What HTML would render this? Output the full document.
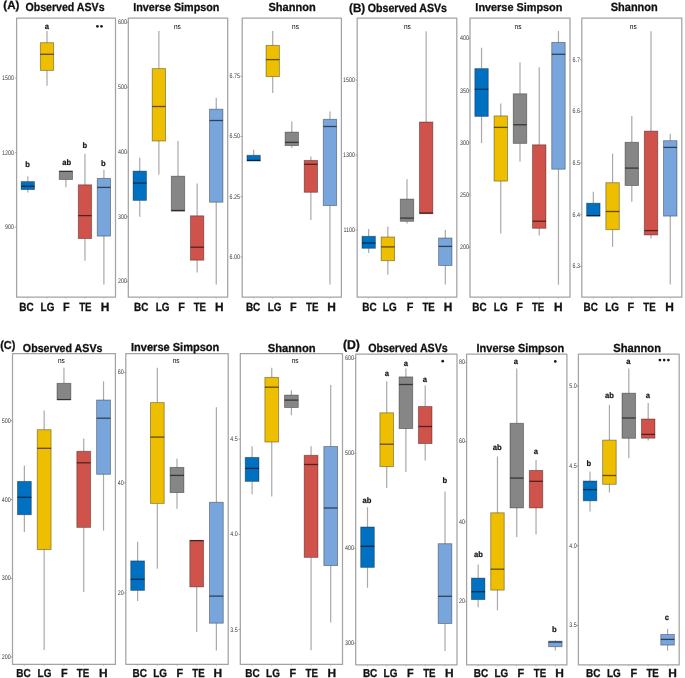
<!DOCTYPE html>
<html><head><meta charset="utf-8"><title>Alpha diversity</title>
<style>html,body{margin:0;padding:0;background:#fff;}body{width:685px;height:678px;overflow:hidden;font-family:"Liberation Sans",sans-serif;}svg{display:block;filter:blur(0.2px);}text{text-rendering:geometricPrecision;}</style>
</head><body>
<svg width="685" height="678" viewBox="0 0 685 678" font-family="Liberation Sans, sans-serif" text-rendering="geometricPrecision">
<rect width="685" height="678" fill="#fff"/>
<rect x="16.60" y="18.00" width="98.90" height="279.20" fill="none" stroke="#a3a3a3" stroke-width="1.25" stroke-linejoin="round"/>
<line x1="14.80" y1="78.10" x2="16.60" y2="78.10" stroke="#777" stroke-width="0.6"/>
<text x="2.09" y="80.04" font-size="6.70" fill="#3a3a3a" textLength="11.92" lengthAdjust="spacingAndGlyphs">1500</text>
<line x1="14.80" y1="152.70" x2="16.60" y2="152.70" stroke="#777" stroke-width="0.6"/>
<text x="2.09" y="154.64" font-size="6.70" fill="#3a3a3a" textLength="11.92" lengthAdjust="spacingAndGlyphs">1200</text>
<line x1="14.80" y1="227.10" x2="16.60" y2="227.10" stroke="#777" stroke-width="0.6"/>
<text x="5.07" y="229.04" font-size="6.70" fill="#3a3a3a" textLength="8.94" lengthAdjust="spacingAndGlyphs">900</text>
<line x1="27.80" y1="297.20" x2="27.80" y2="298.80" stroke="#aaa" stroke-width="0.6"/>
<line x1="47.00" y1="297.20" x2="47.00" y2="298.80" stroke="#aaa" stroke-width="0.6"/>
<line x1="65.90" y1="297.20" x2="65.90" y2="298.80" stroke="#aaa" stroke-width="0.6"/>
<line x1="84.95" y1="297.20" x2="84.95" y2="298.80" stroke="#aaa" stroke-width="0.6"/>
<line x1="103.90" y1="297.20" x2="103.90" y2="298.80" stroke="#aaa" stroke-width="0.6"/>
<line x1="27.80" y1="176.60" x2="27.80" y2="181.60" stroke="#a9a9a9" stroke-width="1.2"/>
<line x1="27.80" y1="189.60" x2="27.80" y2="192.60" stroke="#a9a9a9" stroke-width="1.2"/>
<line x1="47.00" y1="31.00" x2="47.00" y2="42.70" stroke="#a9a9a9" stroke-width="1.2"/>
<line x1="47.00" y1="70.40" x2="47.00" y2="85.80" stroke="#a9a9a9" stroke-width="1.2"/>
<line x1="65.90" y1="179.50" x2="65.90" y2="187.30" stroke="#a9a9a9" stroke-width="1.2"/>
<line x1="84.95" y1="153.80" x2="84.95" y2="184.80" stroke="#a9a9a9" stroke-width="1.2"/>
<line x1="84.95" y1="238.60" x2="84.95" y2="260.70" stroke="#a9a9a9" stroke-width="1.2"/>
<line x1="103.90" y1="169.70" x2="103.90" y2="178.40" stroke="#a9a9a9" stroke-width="1.2"/>
<line x1="103.90" y1="236.10" x2="103.90" y2="284.60" stroke="#a9a9a9" stroke-width="1.2"/>
<rect x="21.14" y="181.60" width="13.31" height="8.00" fill="#0070C0" stroke="rgba(0,0,0,0.38)" stroke-width="0.9"/>
<line x1="21.14" y1="186.20" x2="34.46" y2="186.20" stroke="rgba(0,0,0,0.6)" stroke-width="1.3"/>
<rect x="40.34" y="42.70" width="13.31" height="27.70" fill="#EEBE00" stroke="rgba(0,0,0,0.38)" stroke-width="0.9"/>
<line x1="40.34" y1="54.30" x2="53.66" y2="54.30" stroke="rgba(0,0,0,0.6)" stroke-width="1.3"/>
<rect x="59.24" y="171.30" width="13.31" height="8.20" fill="#868686" stroke="rgba(0,0,0,0.38)" stroke-width="0.9"/>
<line x1="59.24" y1="171.30" x2="72.56" y2="171.30" stroke="rgba(0,0,0,0.6)" stroke-width="1.3"/>
<rect x="78.29" y="184.80" width="13.31" height="53.80" fill="#CF524B" stroke="rgba(0,0,0,0.38)" stroke-width="0.9"/>
<line x1="78.29" y1="215.60" x2="91.61" y2="215.60" stroke="rgba(0,0,0,0.6)" stroke-width="1.3"/>
<rect x="97.24" y="178.40" width="13.31" height="57.70" fill="#79A5DD" stroke="rgba(0,0,0,0.38)" stroke-width="0.9"/>
<line x1="97.24" y1="187.40" x2="110.56" y2="187.40" stroke="rgba(0,0,0,0.6)" stroke-width="1.3"/>
<rect x="128.30" y="18.00" width="99.40" height="279.20" fill="none" stroke="#a3a3a3" stroke-width="1.25" stroke-linejoin="round"/>
<line x1="126.50" y1="22.40" x2="128.30" y2="22.40" stroke="#777" stroke-width="0.6"/>
<text x="117.97" y="24.34" font-size="6.70" fill="#3a3a3a" textLength="8.94" lengthAdjust="spacingAndGlyphs">600</text>
<line x1="126.50" y1="87.20" x2="128.30" y2="87.20" stroke="#777" stroke-width="0.6"/>
<text x="117.97" y="89.14" font-size="6.70" fill="#3a3a3a" textLength="8.94" lengthAdjust="spacingAndGlyphs">500</text>
<line x1="126.50" y1="152.10" x2="128.30" y2="152.10" stroke="#777" stroke-width="0.6"/>
<text x="117.97" y="154.04" font-size="6.70" fill="#3a3a3a" textLength="8.94" lengthAdjust="spacingAndGlyphs">400</text>
<line x1="126.50" y1="216.70" x2="128.30" y2="216.70" stroke="#777" stroke-width="0.6"/>
<text x="117.97" y="218.64" font-size="6.70" fill="#3a3a3a" textLength="8.94" lengthAdjust="spacingAndGlyphs">300</text>
<line x1="126.50" y1="281.50" x2="128.30" y2="281.50" stroke="#777" stroke-width="0.6"/>
<text x="117.97" y="283.44" font-size="6.70" fill="#3a3a3a" textLength="8.94" lengthAdjust="spacingAndGlyphs">200</text>
<line x1="139.77" y1="297.20" x2="139.77" y2="298.80" stroke="#aaa" stroke-width="0.6"/>
<line x1="158.88" y1="297.20" x2="158.88" y2="298.80" stroke="#aaa" stroke-width="0.6"/>
<line x1="178.00" y1="297.20" x2="178.00" y2="298.80" stroke="#aaa" stroke-width="0.6"/>
<line x1="197.12" y1="297.20" x2="197.12" y2="298.80" stroke="#aaa" stroke-width="0.6"/>
<line x1="216.23" y1="297.20" x2="216.23" y2="298.80" stroke="#aaa" stroke-width="0.6"/>
<line x1="139.77" y1="157.80" x2="139.77" y2="171.10" stroke="#a9a9a9" stroke-width="1.2"/>
<line x1="139.77" y1="200.40" x2="139.77" y2="216.70" stroke="#a9a9a9" stroke-width="1.2"/>
<line x1="158.88" y1="30.90" x2="158.88" y2="68.60" stroke="#a9a9a9" stroke-width="1.2"/>
<line x1="158.88" y1="141.00" x2="158.88" y2="174.80" stroke="#a9a9a9" stroke-width="1.2"/>
<line x1="178.00" y1="141.00" x2="178.00" y2="176.20" stroke="#a9a9a9" stroke-width="1.2"/>
<line x1="197.12" y1="183.60" x2="197.12" y2="215.80" stroke="#a9a9a9" stroke-width="1.2"/>
<line x1="197.12" y1="260.20" x2="197.12" y2="272.60" stroke="#a9a9a9" stroke-width="1.2"/>
<line x1="216.23" y1="97.80" x2="216.23" y2="109.20" stroke="#a9a9a9" stroke-width="1.2"/>
<line x1="216.23" y1="202.20" x2="216.23" y2="284.60" stroke="#a9a9a9" stroke-width="1.2"/>
<rect x="133.08" y="171.10" width="13.38" height="29.30" fill="#0070C0" stroke="rgba(0,0,0,0.38)" stroke-width="0.9"/>
<line x1="133.08" y1="183.10" x2="146.46" y2="183.10" stroke="rgba(0,0,0,0.6)" stroke-width="1.3"/>
<rect x="152.19" y="68.60" width="13.38" height="72.40" fill="#EEBE00" stroke="rgba(0,0,0,0.38)" stroke-width="0.9"/>
<line x1="152.19" y1="106.50" x2="165.57" y2="106.50" stroke="rgba(0,0,0,0.6)" stroke-width="1.3"/>
<rect x="171.31" y="176.20" width="13.38" height="34.90" fill="#868686" stroke="rgba(0,0,0,0.38)" stroke-width="0.9"/>
<line x1="171.31" y1="210.50" x2="184.69" y2="210.50" stroke="rgba(0,0,0,0.6)" stroke-width="1.3"/>
<rect x="190.43" y="215.80" width="13.38" height="44.40" fill="#CF524B" stroke="rgba(0,0,0,0.38)" stroke-width="0.9"/>
<line x1="190.43" y1="247.20" x2="203.81" y2="247.20" stroke="rgba(0,0,0,0.6)" stroke-width="1.3"/>
<rect x="209.54" y="109.20" width="13.38" height="93.00" fill="#79A5DD" stroke="rgba(0,0,0,0.38)" stroke-width="0.9"/>
<line x1="209.54" y1="120.50" x2="222.92" y2="120.50" stroke="rgba(0,0,0,0.6)" stroke-width="1.3"/>
<rect x="242.20" y="18.00" width="99.20" height="279.20" fill="none" stroke="#a3a3a3" stroke-width="1.25" stroke-linejoin="round"/>
<line x1="240.40" y1="76.20" x2="242.20" y2="76.20" stroke="#777" stroke-width="0.6"/>
<text x="229.49" y="78.14" font-size="6.70" fill="#3a3a3a" textLength="10.43" lengthAdjust="spacingAndGlyphs">6.75</text>
<line x1="240.40" y1="136.50" x2="242.20" y2="136.50" stroke="#777" stroke-width="0.6"/>
<text x="229.48" y="138.44" font-size="6.70" fill="#3a3a3a" textLength="10.43" lengthAdjust="spacingAndGlyphs">6.50</text>
<line x1="240.40" y1="196.70" x2="242.20" y2="196.70" stroke="#777" stroke-width="0.6"/>
<text x="229.49" y="198.64" font-size="6.70" fill="#3a3a3a" textLength="10.43" lengthAdjust="spacingAndGlyphs">6.25</text>
<line x1="240.40" y1="257.00" x2="242.20" y2="257.00" stroke="#777" stroke-width="0.6"/>
<text x="229.48" y="258.94" font-size="6.70" fill="#3a3a3a" textLength="10.43" lengthAdjust="spacingAndGlyphs">6.00</text>
<line x1="253.65" y1="297.20" x2="253.65" y2="298.80" stroke="#aaa" stroke-width="0.6"/>
<line x1="272.72" y1="297.20" x2="272.72" y2="298.80" stroke="#aaa" stroke-width="0.6"/>
<line x1="291.80" y1="297.20" x2="291.80" y2="298.80" stroke="#aaa" stroke-width="0.6"/>
<line x1="310.88" y1="297.20" x2="310.88" y2="298.80" stroke="#aaa" stroke-width="0.6"/>
<line x1="329.95" y1="297.20" x2="329.95" y2="298.80" stroke="#aaa" stroke-width="0.6"/>
<line x1="253.65" y1="149.80" x2="253.65" y2="155.30" stroke="#a9a9a9" stroke-width="1.2"/>
<line x1="272.72" y1="30.90" x2="272.72" y2="45.40" stroke="#a9a9a9" stroke-width="1.2"/>
<line x1="272.72" y1="76.60" x2="272.72" y2="92.90" stroke="#a9a9a9" stroke-width="1.2"/>
<line x1="291.80" y1="121.40" x2="291.80" y2="132.10" stroke="#a9a9a9" stroke-width="1.2"/>
<line x1="291.80" y1="145.60" x2="291.80" y2="147.70" stroke="#a9a9a9" stroke-width="1.2"/>
<line x1="310.88" y1="156.40" x2="310.88" y2="160.40" stroke="#a9a9a9" stroke-width="1.2"/>
<line x1="310.88" y1="192.30" x2="310.88" y2="220.10" stroke="#a9a9a9" stroke-width="1.2"/>
<line x1="329.95" y1="111.50" x2="329.95" y2="119.30" stroke="#a9a9a9" stroke-width="1.2"/>
<line x1="329.95" y1="205.60" x2="329.95" y2="284.60" stroke="#a9a9a9" stroke-width="1.2"/>
<rect x="246.97" y="155.30" width="13.35" height="5.70" fill="#0070C0" stroke="rgba(0,0,0,0.38)" stroke-width="0.9"/>
<line x1="246.97" y1="160.40" x2="260.32" y2="160.40" stroke="rgba(0,0,0,0.6)" stroke-width="1.3"/>
<rect x="266.05" y="45.40" width="13.35" height="31.20" fill="#EEBE00" stroke="rgba(0,0,0,0.38)" stroke-width="0.9"/>
<line x1="266.05" y1="59.60" x2="279.40" y2="59.60" stroke="rgba(0,0,0,0.6)" stroke-width="1.3"/>
<rect x="285.12" y="132.10" width="13.35" height="13.50" fill="#868686" stroke="rgba(0,0,0,0.38)" stroke-width="0.9"/>
<line x1="285.12" y1="142.40" x2="298.48" y2="142.40" stroke="rgba(0,0,0,0.6)" stroke-width="1.3"/>
<rect x="304.20" y="160.40" width="13.35" height="31.90" fill="#CF524B" stroke="rgba(0,0,0,0.38)" stroke-width="0.9"/>
<line x1="304.20" y1="164.30" x2="317.55" y2="164.30" stroke="rgba(0,0,0,0.6)" stroke-width="1.3"/>
<rect x="323.28" y="119.30" width="13.35" height="86.30" fill="#79A5DD" stroke="rgba(0,0,0,0.38)" stroke-width="0.9"/>
<line x1="323.28" y1="126.50" x2="336.63" y2="126.50" stroke="rgba(0,0,0,0.6)" stroke-width="1.3"/>
<rect x="357.20" y="18.00" width="99.60" height="279.20" fill="none" stroke="#a3a3a3" stroke-width="1.25" stroke-linejoin="round"/>
<line x1="355.40" y1="80.00" x2="357.20" y2="80.00" stroke="#777" stroke-width="0.6"/>
<text x="342.99" y="81.94" font-size="6.70" fill="#3a3a3a" textLength="11.92" lengthAdjust="spacingAndGlyphs">1500</text>
<line x1="355.40" y1="155.00" x2="357.20" y2="155.00" stroke="#777" stroke-width="0.6"/>
<text x="342.99" y="156.94" font-size="6.70" fill="#3a3a3a" textLength="11.92" lengthAdjust="spacingAndGlyphs">1300</text>
<line x1="355.40" y1="230.10" x2="357.20" y2="230.10" stroke="#777" stroke-width="0.6"/>
<text x="343.39" y="232.04" font-size="6.70" fill="#3a3a3a" textLength="11.53" lengthAdjust="spacingAndGlyphs">1100</text>
<line x1="368.69" y1="297.20" x2="368.69" y2="298.80" stroke="#aaa" stroke-width="0.6"/>
<line x1="387.85" y1="297.20" x2="387.85" y2="298.80" stroke="#aaa" stroke-width="0.6"/>
<line x1="407.00" y1="297.20" x2="407.00" y2="298.80" stroke="#aaa" stroke-width="0.6"/>
<line x1="426.15" y1="297.20" x2="426.15" y2="298.80" stroke="#aaa" stroke-width="0.6"/>
<line x1="445.31" y1="297.20" x2="445.31" y2="298.80" stroke="#aaa" stroke-width="0.6"/>
<line x1="368.69" y1="229.00" x2="368.69" y2="236.30" stroke="#a9a9a9" stroke-width="1.2"/>
<line x1="368.69" y1="248.30" x2="368.69" y2="253.10" stroke="#a9a9a9" stroke-width="1.2"/>
<line x1="387.85" y1="226.60" x2="387.85" y2="237.00" stroke="#a9a9a9" stroke-width="1.2"/>
<line x1="387.85" y1="260.70" x2="387.85" y2="274.70" stroke="#a9a9a9" stroke-width="1.2"/>
<line x1="407.00" y1="179.30" x2="407.00" y2="199.10" stroke="#a9a9a9" stroke-width="1.2"/>
<line x1="407.00" y1="221.30" x2="407.00" y2="223.50" stroke="#a9a9a9" stroke-width="1.2"/>
<line x1="426.15" y1="31.30" x2="426.15" y2="122.00" stroke="#a9a9a9" stroke-width="1.2"/>
<line x1="445.31" y1="230.10" x2="445.31" y2="238.00" stroke="#a9a9a9" stroke-width="1.2"/>
<line x1="445.31" y1="265.50" x2="445.31" y2="284.60" stroke="#a9a9a9" stroke-width="1.2"/>
<rect x="361.99" y="236.30" width="13.41" height="12.00" fill="#0070C0" stroke="rgba(0,0,0,0.38)" stroke-width="0.9"/>
<line x1="361.99" y1="243.00" x2="375.40" y2="243.00" stroke="rgba(0,0,0,0.6)" stroke-width="1.3"/>
<rect x="381.14" y="237.00" width="13.41" height="23.70" fill="#EEBE00" stroke="rgba(0,0,0,0.38)" stroke-width="0.9"/>
<line x1="381.14" y1="246.90" x2="394.55" y2="246.90" stroke="rgba(0,0,0,0.6)" stroke-width="1.3"/>
<rect x="400.30" y="199.10" width="13.41" height="22.20" fill="#868686" stroke="rgba(0,0,0,0.38)" stroke-width="0.9"/>
<line x1="400.30" y1="218.10" x2="413.70" y2="218.10" stroke="rgba(0,0,0,0.6)" stroke-width="1.3"/>
<rect x="419.45" y="122.00" width="13.41" height="91.70" fill="#CF524B" stroke="rgba(0,0,0,0.38)" stroke-width="0.9"/>
<line x1="419.45" y1="213.00" x2="432.86" y2="213.00" stroke="rgba(0,0,0,0.6)" stroke-width="1.3"/>
<rect x="438.60" y="238.00" width="13.41" height="27.50" fill="#79A5DD" stroke="rgba(0,0,0,0.38)" stroke-width="0.9"/>
<line x1="438.60" y1="246.40" x2="452.01" y2="246.40" stroke="rgba(0,0,0,0.6)" stroke-width="1.3"/>
<rect x="470.00" y="18.00" width="100.00" height="279.20" fill="none" stroke="#a3a3a3" stroke-width="1.25" stroke-linejoin="round"/>
<line x1="468.20" y1="38.40" x2="470.00" y2="38.40" stroke="#777" stroke-width="0.6"/>
<text x="460.07" y="40.34" font-size="6.70" fill="#3a3a3a" textLength="8.94" lengthAdjust="spacingAndGlyphs">400</text>
<line x1="468.20" y1="90.80" x2="470.00" y2="90.80" stroke="#777" stroke-width="0.6"/>
<text x="460.07" y="92.74" font-size="6.70" fill="#3a3a3a" textLength="8.94" lengthAdjust="spacingAndGlyphs">350</text>
<line x1="468.20" y1="142.70" x2="470.00" y2="142.70" stroke="#777" stroke-width="0.6"/>
<text x="460.07" y="144.64" font-size="6.70" fill="#3a3a3a" textLength="8.94" lengthAdjust="spacingAndGlyphs">300</text>
<line x1="468.20" y1="194.90" x2="470.00" y2="194.90" stroke="#777" stroke-width="0.6"/>
<text x="460.07" y="196.84" font-size="6.70" fill="#3a3a3a" textLength="8.94" lengthAdjust="spacingAndGlyphs">250</text>
<line x1="468.20" y1="247.30" x2="470.00" y2="247.30" stroke="#777" stroke-width="0.6"/>
<text x="460.07" y="249.24" font-size="6.70" fill="#3a3a3a" textLength="8.94" lengthAdjust="spacingAndGlyphs">200</text>
<line x1="481.54" y1="297.20" x2="481.54" y2="298.80" stroke="#aaa" stroke-width="0.6"/>
<line x1="500.77" y1="297.20" x2="500.77" y2="298.80" stroke="#aaa" stroke-width="0.6"/>
<line x1="520.00" y1="297.20" x2="520.00" y2="298.80" stroke="#aaa" stroke-width="0.6"/>
<line x1="539.23" y1="297.20" x2="539.23" y2="298.80" stroke="#aaa" stroke-width="0.6"/>
<line x1="558.46" y1="297.20" x2="558.46" y2="298.80" stroke="#aaa" stroke-width="0.6"/>
<line x1="481.54" y1="47.70" x2="481.54" y2="68.60" stroke="#a9a9a9" stroke-width="1.2"/>
<line x1="481.54" y1="116.40" x2="481.54" y2="143.00" stroke="#a9a9a9" stroke-width="1.2"/>
<line x1="500.77" y1="103.50" x2="500.77" y2="115.90" stroke="#a9a9a9" stroke-width="1.2"/>
<line x1="500.77" y1="181.10" x2="500.77" y2="233.50" stroke="#a9a9a9" stroke-width="1.2"/>
<line x1="520.00" y1="62.40" x2="520.00" y2="93.80" stroke="#a9a9a9" stroke-width="1.2"/>
<line x1="520.00" y1="143.40" x2="520.00" y2="161.60" stroke="#a9a9a9" stroke-width="1.2"/>
<line x1="539.23" y1="67.20" x2="539.23" y2="144.80" stroke="#a9a9a9" stroke-width="1.2"/>
<line x1="539.23" y1="228.30" x2="539.23" y2="235.60" stroke="#a9a9a9" stroke-width="1.2"/>
<line x1="558.46" y1="30.90" x2="558.46" y2="42.40" stroke="#a9a9a9" stroke-width="1.2"/>
<line x1="558.46" y1="169.20" x2="558.46" y2="284.60" stroke="#a9a9a9" stroke-width="1.2"/>
<rect x="474.81" y="68.60" width="13.46" height="47.80" fill="#0070C0" stroke="rgba(0,0,0,0.38)" stroke-width="0.9"/>
<line x1="474.81" y1="89.30" x2="488.27" y2="89.30" stroke="rgba(0,0,0,0.6)" stroke-width="1.3"/>
<rect x="494.04" y="115.90" width="13.46" height="65.20" fill="#EEBE00" stroke="rgba(0,0,0,0.38)" stroke-width="0.9"/>
<line x1="494.04" y1="127.40" x2="507.50" y2="127.40" stroke="rgba(0,0,0,0.6)" stroke-width="1.3"/>
<rect x="513.27" y="93.80" width="13.46" height="49.60" fill="#868686" stroke="rgba(0,0,0,0.38)" stroke-width="0.9"/>
<line x1="513.27" y1="124.75" x2="526.73" y2="124.75" stroke="rgba(0,0,0,0.6)" stroke-width="1.3"/>
<rect x="532.50" y="144.80" width="13.46" height="83.50" fill="#CF524B" stroke="rgba(0,0,0,0.38)" stroke-width="0.9"/>
<line x1="532.50" y1="221.20" x2="545.96" y2="221.20" stroke="rgba(0,0,0,0.6)" stroke-width="1.3"/>
<rect x="551.73" y="42.40" width="13.46" height="126.80" fill="#79A5DD" stroke="rgba(0,0,0,0.38)" stroke-width="0.9"/>
<line x1="551.73" y1="54.30" x2="565.19" y2="54.30" stroke="rgba(0,0,0,0.6)" stroke-width="1.3"/>
<rect x="581.80" y="18.00" width="100.00" height="279.20" fill="none" stroke="#a3a3a3" stroke-width="1.25" stroke-linejoin="round"/>
<line x1="580.00" y1="59.80" x2="581.80" y2="59.80" stroke="#777" stroke-width="0.6"/>
<text x="572.52" y="61.74" font-size="6.70" fill="#3a3a3a" textLength="7.45" lengthAdjust="spacingAndGlyphs">6.7</text>
<line x1="580.00" y1="111.50" x2="581.80" y2="111.50" stroke="#777" stroke-width="0.6"/>
<text x="572.49" y="113.44" font-size="6.70" fill="#3a3a3a" textLength="7.45" lengthAdjust="spacingAndGlyphs">6.6</text>
<line x1="580.00" y1="163.00" x2="581.80" y2="163.00" stroke="#777" stroke-width="0.6"/>
<text x="572.47" y="164.94" font-size="6.70" fill="#3a3a3a" textLength="7.45" lengthAdjust="spacingAndGlyphs">6.5</text>
<line x1="580.00" y1="214.70" x2="581.80" y2="214.70" stroke="#777" stroke-width="0.6"/>
<text x="572.41" y="216.64" font-size="6.70" fill="#3a3a3a" textLength="7.45" lengthAdjust="spacingAndGlyphs">6.4</text>
<line x1="580.00" y1="266.40" x2="581.80" y2="266.40" stroke="#777" stroke-width="0.6"/>
<text x="572.49" y="268.34" font-size="6.70" fill="#3a3a3a" textLength="7.45" lengthAdjust="spacingAndGlyphs">6.3</text>
<line x1="593.34" y1="297.20" x2="593.34" y2="298.80" stroke="#aaa" stroke-width="0.6"/>
<line x1="612.57" y1="297.20" x2="612.57" y2="298.80" stroke="#aaa" stroke-width="0.6"/>
<line x1="631.80" y1="297.20" x2="631.80" y2="298.80" stroke="#aaa" stroke-width="0.6"/>
<line x1="651.03" y1="297.20" x2="651.03" y2="298.80" stroke="#aaa" stroke-width="0.6"/>
<line x1="670.26" y1="297.20" x2="670.26" y2="298.80" stroke="#aaa" stroke-width="0.6"/>
<line x1="593.34" y1="191.70" x2="593.34" y2="203.20" stroke="#a9a9a9" stroke-width="1.2"/>
<line x1="612.57" y1="153.60" x2="612.57" y2="182.70" stroke="#a9a9a9" stroke-width="1.2"/>
<line x1="612.57" y1="229.70" x2="612.57" y2="246.90" stroke="#a9a9a9" stroke-width="1.2"/>
<line x1="631.80" y1="115.90" x2="631.80" y2="142.30" stroke="#a9a9a9" stroke-width="1.2"/>
<line x1="631.80" y1="185.50" x2="631.80" y2="201.80" stroke="#a9a9a9" stroke-width="1.2"/>
<line x1="651.03" y1="31.30" x2="651.03" y2="131.10" stroke="#a9a9a9" stroke-width="1.2"/>
<line x1="651.03" y1="235.00" x2="651.03" y2="238.40" stroke="#a9a9a9" stroke-width="1.2"/>
<line x1="670.26" y1="133.80" x2="670.26" y2="140.70" stroke="#a9a9a9" stroke-width="1.2"/>
<line x1="670.26" y1="216.10" x2="670.26" y2="284.60" stroke="#a9a9a9" stroke-width="1.2"/>
<rect x="586.61" y="203.20" width="13.46" height="12.90" fill="#0070C0" stroke="rgba(0,0,0,0.38)" stroke-width="0.9"/>
<line x1="586.61" y1="215.60" x2="600.07" y2="215.60" stroke="rgba(0,0,0,0.6)" stroke-width="1.3"/>
<rect x="605.84" y="182.70" width="13.46" height="47.00" fill="#EEBE00" stroke="rgba(0,0,0,0.38)" stroke-width="0.9"/>
<line x1="605.84" y1="211.50" x2="619.30" y2="211.50" stroke="rgba(0,0,0,0.6)" stroke-width="1.3"/>
<rect x="625.07" y="142.30" width="13.46" height="43.20" fill="#868686" stroke="rgba(0,0,0,0.38)" stroke-width="0.9"/>
<line x1="625.07" y1="168.10" x2="638.53" y2="168.10" stroke="rgba(0,0,0,0.6)" stroke-width="1.3"/>
<rect x="644.30" y="131.10" width="13.46" height="103.90" fill="#CF524B" stroke="rgba(0,0,0,0.38)" stroke-width="0.9"/>
<line x1="644.30" y1="230.60" x2="657.76" y2="230.60" stroke="rgba(0,0,0,0.6)" stroke-width="1.3"/>
<rect x="663.53" y="140.70" width="13.46" height="75.40" fill="#79A5DD" stroke="rgba(0,0,0,0.38)" stroke-width="0.9"/>
<line x1="663.53" y1="147.40" x2="676.99" y2="147.40" stroke="rgba(0,0,0,0.6)" stroke-width="1.3"/>
<rect x="12.50" y="353.60" width="102.90" height="310.80" fill="none" stroke="#a3a3a3" stroke-width="1.25" stroke-linejoin="round"/>
<line x1="10.70" y1="420.70" x2="12.50" y2="420.70" stroke="#777" stroke-width="0.6"/>
<text x="1.77" y="422.64" font-size="6.70" fill="#3a3a3a" textLength="8.94" lengthAdjust="spacingAndGlyphs">500</text>
<line x1="10.70" y1="499.60" x2="12.50" y2="499.60" stroke="#777" stroke-width="0.6"/>
<text x="1.77" y="501.54" font-size="6.70" fill="#3a3a3a" textLength="8.94" lengthAdjust="spacingAndGlyphs">400</text>
<line x1="10.70" y1="578.40" x2="12.50" y2="578.40" stroke="#777" stroke-width="0.6"/>
<text x="1.77" y="580.34" font-size="6.70" fill="#3a3a3a" textLength="8.94" lengthAdjust="spacingAndGlyphs">300</text>
<line x1="10.70" y1="657.00" x2="12.50" y2="657.00" stroke="#777" stroke-width="0.6"/>
<text x="1.77" y="658.94" font-size="6.70" fill="#3a3a3a" textLength="8.94" lengthAdjust="spacingAndGlyphs">200</text>
<line x1="24.37" y1="664.40" x2="24.37" y2="666.00" stroke="#aaa" stroke-width="0.6"/>
<line x1="44.16" y1="664.40" x2="44.16" y2="666.00" stroke="#aaa" stroke-width="0.6"/>
<line x1="63.95" y1="664.40" x2="63.95" y2="666.00" stroke="#aaa" stroke-width="0.6"/>
<line x1="83.74" y1="664.40" x2="83.74" y2="666.00" stroke="#aaa" stroke-width="0.6"/>
<line x1="103.53" y1="664.40" x2="103.53" y2="666.00" stroke="#aaa" stroke-width="0.6"/>
<line x1="24.37" y1="465.50" x2="24.37" y2="481.40" stroke="#a9a9a9" stroke-width="1.2"/>
<line x1="24.37" y1="514.70" x2="24.37" y2="531.90" stroke="#a9a9a9" stroke-width="1.2"/>
<line x1="44.16" y1="410.50" x2="44.16" y2="429.70" stroke="#a9a9a9" stroke-width="1.2"/>
<line x1="44.16" y1="549.60" x2="44.16" y2="650.10" stroke="#a9a9a9" stroke-width="1.2"/>
<line x1="63.95" y1="367.80" x2="63.95" y2="383.30" stroke="#a9a9a9" stroke-width="1.2"/>
<line x1="83.74" y1="438.60" x2="83.74" y2="451.30" stroke="#a9a9a9" stroke-width="1.2"/>
<line x1="83.74" y1="527.40" x2="83.74" y2="592.00" stroke="#a9a9a9" stroke-width="1.2"/>
<line x1="103.53" y1="381.40" x2="103.53" y2="400.00" stroke="#a9a9a9" stroke-width="1.2"/>
<line x1="103.53" y1="474.30" x2="103.53" y2="530.60" stroke="#a9a9a9" stroke-width="1.2"/>
<rect x="17.45" y="481.40" width="13.85" height="33.30" fill="#0070C0" stroke="rgba(0,0,0,0.38)" stroke-width="0.9"/>
<line x1="17.45" y1="497.30" x2="31.30" y2="497.30" stroke="rgba(0,0,0,0.6)" stroke-width="1.3"/>
<rect x="37.24" y="429.70" width="13.85" height="119.90" fill="#EEBE00" stroke="rgba(0,0,0,0.38)" stroke-width="0.9"/>
<line x1="37.24" y1="448.30" x2="51.09" y2="448.30" stroke="rgba(0,0,0,0.6)" stroke-width="1.3"/>
<rect x="57.02" y="383.30" width="13.85" height="16.30" fill="#868686" stroke="rgba(0,0,0,0.38)" stroke-width="0.9"/>
<line x1="57.02" y1="399.60" x2="70.88" y2="399.60" stroke="rgba(0,0,0,0.6)" stroke-width="1.3"/>
<rect x="76.81" y="451.30" width="13.85" height="76.10" fill="#CF524B" stroke="rgba(0,0,0,0.38)" stroke-width="0.9"/>
<line x1="76.81" y1="462.80" x2="90.66" y2="462.80" stroke="rgba(0,0,0,0.6)" stroke-width="1.3"/>
<rect x="96.60" y="400.00" width="13.85" height="74.30" fill="#79A5DD" stroke="rgba(0,0,0,0.38)" stroke-width="0.9"/>
<line x1="96.60" y1="418.20" x2="110.45" y2="418.20" stroke="rgba(0,0,0,0.6)" stroke-width="1.3"/>
<rect x="125.80" y="353.60" width="102.40" height="310.80" fill="none" stroke="#a3a3a3" stroke-width="1.25" stroke-linejoin="round"/>
<line x1="124.00" y1="372.50" x2="125.80" y2="372.50" stroke="#777" stroke-width="0.6"/>
<text x="117.75" y="374.44" font-size="6.70" fill="#3a3a3a" textLength="5.96" lengthAdjust="spacingAndGlyphs">60</text>
<line x1="124.00" y1="482.80" x2="125.80" y2="482.80" stroke="#777" stroke-width="0.6"/>
<text x="117.75" y="484.74" font-size="6.70" fill="#3a3a3a" textLength="5.96" lengthAdjust="spacingAndGlyphs">40</text>
<line x1="124.00" y1="593.10" x2="125.80" y2="593.10" stroke="#777" stroke-width="0.6"/>
<text x="117.75" y="595.04" font-size="6.70" fill="#3a3a3a" textLength="5.96" lengthAdjust="spacingAndGlyphs">20</text>
<line x1="137.62" y1="664.40" x2="137.62" y2="666.00" stroke="#aaa" stroke-width="0.6"/>
<line x1="157.31" y1="664.40" x2="157.31" y2="666.00" stroke="#aaa" stroke-width="0.6"/>
<line x1="177.00" y1="664.40" x2="177.00" y2="666.00" stroke="#aaa" stroke-width="0.6"/>
<line x1="196.69" y1="664.40" x2="196.69" y2="666.00" stroke="#aaa" stroke-width="0.6"/>
<line x1="216.38" y1="664.40" x2="216.38" y2="666.00" stroke="#aaa" stroke-width="0.6"/>
<line x1="137.62" y1="541.80" x2="137.62" y2="560.90" stroke="#a9a9a9" stroke-width="1.2"/>
<line x1="137.62" y1="590.40" x2="137.62" y2="601.10" stroke="#a9a9a9" stroke-width="1.2"/>
<line x1="157.31" y1="367.70" x2="157.31" y2="402.60" stroke="#a9a9a9" stroke-width="1.2"/>
<line x1="157.31" y1="503.40" x2="157.31" y2="568.70" stroke="#a9a9a9" stroke-width="1.2"/>
<line x1="177.00" y1="458.60" x2="177.00" y2="467.40" stroke="#a9a9a9" stroke-width="1.2"/>
<line x1="177.00" y1="492.60" x2="177.00" y2="508.70" stroke="#a9a9a9" stroke-width="1.2"/>
<line x1="196.69" y1="539.90" x2="196.69" y2="540.40" stroke="#a9a9a9" stroke-width="1.2"/>
<line x1="196.69" y1="586.90" x2="196.69" y2="632.00" stroke="#a9a9a9" stroke-width="1.2"/>
<line x1="216.38" y1="407.30" x2="216.38" y2="502.30" stroke="#a9a9a9" stroke-width="1.2"/>
<line x1="216.38" y1="623.20" x2="216.38" y2="650.60" stroke="#a9a9a9" stroke-width="1.2"/>
<rect x="130.72" y="560.90" width="13.78" height="29.50" fill="#0070C0" stroke="rgba(0,0,0,0.38)" stroke-width="0.9"/>
<line x1="130.72" y1="579.30" x2="144.51" y2="579.30" stroke="rgba(0,0,0,0.6)" stroke-width="1.3"/>
<rect x="150.42" y="402.60" width="13.78" height="100.80" fill="#EEBE00" stroke="rgba(0,0,0,0.38)" stroke-width="0.9"/>
<line x1="150.42" y1="437.10" x2="164.20" y2="437.10" stroke="rgba(0,0,0,0.6)" stroke-width="1.3"/>
<rect x="170.11" y="467.40" width="13.78" height="25.20" fill="#868686" stroke="rgba(0,0,0,0.38)" stroke-width="0.9"/>
<line x1="170.11" y1="475.40" x2="183.89" y2="475.40" stroke="rgba(0,0,0,0.6)" stroke-width="1.3"/>
<rect x="189.80" y="540.40" width="13.78" height="46.50" fill="#CF524B" stroke="rgba(0,0,0,0.38)" stroke-width="0.9"/>
<line x1="189.80" y1="540.60" x2="203.58" y2="540.60" stroke="rgba(0,0,0,0.6)" stroke-width="1.3"/>
<rect x="209.49" y="502.30" width="13.78" height="120.90" fill="#79A5DD" stroke="rgba(0,0,0,0.38)" stroke-width="0.9"/>
<line x1="209.49" y1="596.10" x2="223.28" y2="596.10" stroke="rgba(0,0,0,0.6)" stroke-width="1.3"/>
<rect x="240.30" y="353.60" width="102.20" height="310.80" fill="none" stroke="#a3a3a3" stroke-width="1.25" stroke-linejoin="round"/>
<line x1="238.50" y1="439.10" x2="240.30" y2="439.10" stroke="#777" stroke-width="0.6"/>
<text x="230.37" y="441.00" font-size="6.70" fill="#3a3a3a" textLength="7.45" lengthAdjust="spacingAndGlyphs">4.5</text>
<line x1="238.50" y1="534.50" x2="240.30" y2="534.50" stroke="#777" stroke-width="0.6"/>
<text x="230.36" y="536.44" font-size="6.70" fill="#3a3a3a" textLength="7.45" lengthAdjust="spacingAndGlyphs">4.0</text>
<line x1="238.50" y1="629.60" x2="240.30" y2="629.60" stroke="#777" stroke-width="0.6"/>
<text x="230.37" y="631.54" font-size="6.70" fill="#3a3a3a" textLength="7.45" lengthAdjust="spacingAndGlyphs">3.5</text>
<line x1="252.09" y1="664.40" x2="252.09" y2="666.00" stroke="#aaa" stroke-width="0.6"/>
<line x1="271.75" y1="664.40" x2="271.75" y2="666.00" stroke="#aaa" stroke-width="0.6"/>
<line x1="291.40" y1="664.40" x2="291.40" y2="666.00" stroke="#aaa" stroke-width="0.6"/>
<line x1="311.05" y1="664.40" x2="311.05" y2="666.00" stroke="#aaa" stroke-width="0.6"/>
<line x1="330.71" y1="664.40" x2="330.71" y2="666.00" stroke="#aaa" stroke-width="0.6"/>
<line x1="252.09" y1="446.30" x2="252.09" y2="457.40" stroke="#a9a9a9" stroke-width="1.2"/>
<line x1="252.09" y1="481.40" x2="252.09" y2="494.20" stroke="#a9a9a9" stroke-width="1.2"/>
<line x1="271.75" y1="367.70" x2="271.75" y2="377.40" stroke="#a9a9a9" stroke-width="1.2"/>
<line x1="271.75" y1="442.00" x2="271.75" y2="496.50" stroke="#a9a9a9" stroke-width="1.2"/>
<line x1="291.40" y1="390.20" x2="291.40" y2="395.10" stroke="#a9a9a9" stroke-width="1.2"/>
<line x1="291.40" y1="407.50" x2="291.40" y2="415.30" stroke="#a9a9a9" stroke-width="1.2"/>
<line x1="311.05" y1="446.30" x2="311.05" y2="455.30" stroke="#a9a9a9" stroke-width="1.2"/>
<line x1="311.05" y1="557.40" x2="311.05" y2="650.20" stroke="#a9a9a9" stroke-width="1.2"/>
<line x1="330.71" y1="384.90" x2="330.71" y2="446.50" stroke="#a9a9a9" stroke-width="1.2"/>
<line x1="330.71" y1="565.60" x2="330.71" y2="622.40" stroke="#a9a9a9" stroke-width="1.2"/>
<rect x="245.21" y="457.40" width="13.76" height="24.00" fill="#0070C0" stroke="rgba(0,0,0,0.38)" stroke-width="0.9"/>
<line x1="245.21" y1="468.40" x2="258.97" y2="468.40" stroke="rgba(0,0,0,0.6)" stroke-width="1.3"/>
<rect x="264.87" y="377.40" width="13.76" height="64.60" fill="#EEBE00" stroke="rgba(0,0,0,0.38)" stroke-width="0.9"/>
<line x1="264.87" y1="387.20" x2="278.62" y2="387.20" stroke="rgba(0,0,0,0.6)" stroke-width="1.3"/>
<rect x="284.52" y="395.10" width="13.76" height="12.40" fill="#868686" stroke="rgba(0,0,0,0.38)" stroke-width="0.9"/>
<line x1="284.52" y1="400.10" x2="298.28" y2="400.10" stroke="rgba(0,0,0,0.6)" stroke-width="1.3"/>
<rect x="304.18" y="455.30" width="13.76" height="102.10" fill="#CF524B" stroke="rgba(0,0,0,0.38)" stroke-width="0.9"/>
<line x1="304.18" y1="464.50" x2="317.93" y2="464.50" stroke="rgba(0,0,0,0.6)" stroke-width="1.3"/>
<rect x="323.83" y="446.50" width="13.76" height="119.10" fill="#79A5DD" stroke="rgba(0,0,0,0.38)" stroke-width="0.9"/>
<line x1="323.83" y1="508.00" x2="337.59" y2="508.00" stroke="rgba(0,0,0,0.6)" stroke-width="1.3"/>
<rect x="355.70" y="354.20" width="101.30" height="310.60" fill="none" stroke="#a3a3a3" stroke-width="1.25" stroke-linejoin="round"/>
<line x1="353.90" y1="358.50" x2="355.70" y2="358.50" stroke="#777" stroke-width="0.6"/>
<text x="344.97" y="360.44" font-size="6.70" fill="#3a3a3a" textLength="8.94" lengthAdjust="spacingAndGlyphs">600</text>
<line x1="353.90" y1="453.40" x2="355.70" y2="453.40" stroke="#777" stroke-width="0.6"/>
<text x="344.97" y="455.34" font-size="6.70" fill="#3a3a3a" textLength="8.94" lengthAdjust="spacingAndGlyphs">500</text>
<line x1="353.90" y1="548.30" x2="355.70" y2="548.30" stroke="#777" stroke-width="0.6"/>
<text x="344.97" y="550.24" font-size="6.70" fill="#3a3a3a" textLength="8.94" lengthAdjust="spacingAndGlyphs">400</text>
<line x1="353.90" y1="643.30" x2="355.70" y2="643.30" stroke="#777" stroke-width="0.6"/>
<text x="344.97" y="645.24" font-size="6.70" fill="#3a3a3a" textLength="8.94" lengthAdjust="spacingAndGlyphs">300</text>
<line x1="367.50" y1="664.80" x2="367.50" y2="666.40" stroke="#aaa" stroke-width="0.6"/>
<line x1="386.70" y1="664.80" x2="386.70" y2="666.40" stroke="#aaa" stroke-width="0.6"/>
<line x1="405.90" y1="664.80" x2="405.90" y2="666.40" stroke="#aaa" stroke-width="0.6"/>
<line x1="425.20" y1="664.80" x2="425.20" y2="666.40" stroke="#aaa" stroke-width="0.6"/>
<line x1="445.00" y1="664.80" x2="445.00" y2="666.40" stroke="#aaa" stroke-width="0.6"/>
<line x1="367.50" y1="507.30" x2="367.50" y2="527.00" stroke="#a9a9a9" stroke-width="1.2"/>
<line x1="367.50" y1="567.40" x2="367.50" y2="587.80" stroke="#a9a9a9" stroke-width="1.2"/>
<line x1="386.70" y1="381.30" x2="386.70" y2="412.80" stroke="#a9a9a9" stroke-width="1.2"/>
<line x1="386.70" y1="466.60" x2="386.70" y2="488.00" stroke="#a9a9a9" stroke-width="1.2"/>
<line x1="405.90" y1="368.60" x2="405.90" y2="376.90" stroke="#a9a9a9" stroke-width="1.2"/>
<line x1="405.90" y1="428.60" x2="405.90" y2="472.00" stroke="#a9a9a9" stroke-width="1.2"/>
<line x1="425.20" y1="385.40" x2="425.20" y2="406.50" stroke="#a9a9a9" stroke-width="1.2"/>
<line x1="425.20" y1="443.60" x2="425.20" y2="460.60" stroke="#a9a9a9" stroke-width="1.2"/>
<line x1="445.00" y1="491.40" x2="445.00" y2="543.70" stroke="#a9a9a9" stroke-width="1.2"/>
<line x1="445.00" y1="623.50" x2="445.00" y2="651.00" stroke="#a9a9a9" stroke-width="1.2"/>
<rect x="360.68" y="527.00" width="13.64" height="40.40" fill="#0070C0" stroke="rgba(0,0,0,0.38)" stroke-width="0.9"/>
<line x1="360.68" y1="546.30" x2="374.32" y2="546.30" stroke="rgba(0,0,0,0.6)" stroke-width="1.3"/>
<rect x="379.88" y="412.80" width="13.64" height="53.80" fill="#EEBE00" stroke="rgba(0,0,0,0.38)" stroke-width="0.9"/>
<line x1="379.88" y1="444.20" x2="393.52" y2="444.20" stroke="rgba(0,0,0,0.6)" stroke-width="1.3"/>
<rect x="399.08" y="376.90" width="13.64" height="51.70" fill="#868686" stroke="rgba(0,0,0,0.38)" stroke-width="0.9"/>
<line x1="399.08" y1="384.50" x2="412.72" y2="384.50" stroke="rgba(0,0,0,0.6)" stroke-width="1.3"/>
<rect x="418.38" y="406.50" width="13.64" height="37.10" fill="#CF524B" stroke="rgba(0,0,0,0.38)" stroke-width="0.9"/>
<line x1="418.38" y1="426.50" x2="432.02" y2="426.50" stroke="rgba(0,0,0,0.6)" stroke-width="1.3"/>
<rect x="438.18" y="543.70" width="13.64" height="79.80" fill="#79A5DD" stroke="rgba(0,0,0,0.38)" stroke-width="0.9"/>
<line x1="438.18" y1="596.30" x2="451.82" y2="596.30" stroke="rgba(0,0,0,0.6)" stroke-width="1.3"/>
<rect x="466.60" y="354.20" width="100.30" height="310.70" fill="none" stroke="#a3a3a3" stroke-width="1.25" stroke-linejoin="round"/>
<line x1="464.80" y1="362.40" x2="466.60" y2="362.40" stroke="#777" stroke-width="0.6"/>
<text x="458.95" y="364.34" font-size="6.70" fill="#3a3a3a" textLength="5.96" lengthAdjust="spacingAndGlyphs">80</text>
<line x1="464.80" y1="441.50" x2="466.60" y2="441.50" stroke="#777" stroke-width="0.6"/>
<text x="458.95" y="443.44" font-size="6.70" fill="#3a3a3a" textLength="5.96" lengthAdjust="spacingAndGlyphs">60</text>
<line x1="464.80" y1="521.70" x2="466.60" y2="521.70" stroke="#777" stroke-width="0.6"/>
<text x="458.95" y="523.64" font-size="6.70" fill="#3a3a3a" textLength="5.96" lengthAdjust="spacingAndGlyphs">40</text>
<line x1="464.80" y1="601.30" x2="466.60" y2="601.30" stroke="#777" stroke-width="0.6"/>
<text x="458.95" y="603.24" font-size="6.70" fill="#3a3a3a" textLength="5.96" lengthAdjust="spacingAndGlyphs">20</text>
<line x1="478.17" y1="664.90" x2="478.17" y2="666.50" stroke="#aaa" stroke-width="0.6"/>
<line x1="497.46" y1="664.90" x2="497.46" y2="666.50" stroke="#aaa" stroke-width="0.6"/>
<line x1="516.75" y1="664.90" x2="516.75" y2="666.50" stroke="#aaa" stroke-width="0.6"/>
<line x1="536.04" y1="664.90" x2="536.04" y2="666.50" stroke="#aaa" stroke-width="0.6"/>
<line x1="555.33" y1="664.90" x2="555.33" y2="666.50" stroke="#aaa" stroke-width="0.6"/>
<line x1="478.17" y1="564.40" x2="478.17" y2="578.10" stroke="#a9a9a9" stroke-width="1.2"/>
<line x1="478.17" y1="599.60" x2="478.17" y2="607.30" stroke="#a9a9a9" stroke-width="1.2"/>
<line x1="497.46" y1="456.50" x2="497.46" y2="512.80" stroke="#a9a9a9" stroke-width="1.2"/>
<line x1="497.46" y1="590.10" x2="497.46" y2="610.40" stroke="#a9a9a9" stroke-width="1.2"/>
<line x1="516.75" y1="368.60" x2="516.75" y2="423.30" stroke="#a9a9a9" stroke-width="1.2"/>
<line x1="516.75" y1="507.90" x2="516.75" y2="537.10" stroke="#a9a9a9" stroke-width="1.2"/>
<line x1="536.04" y1="460.10" x2="536.04" y2="470.40" stroke="#a9a9a9" stroke-width="1.2"/>
<line x1="536.04" y1="507.90" x2="536.04" y2="534.40" stroke="#a9a9a9" stroke-width="1.2"/>
<line x1="555.33" y1="640.40" x2="555.33" y2="641.20" stroke="#a9a9a9" stroke-width="1.2"/>
<line x1="555.33" y1="646.70" x2="555.33" y2="650.60" stroke="#a9a9a9" stroke-width="1.2"/>
<rect x="471.42" y="578.10" width="13.50" height="21.50" fill="#0070C0" stroke="rgba(0,0,0,0.38)" stroke-width="0.9"/>
<line x1="471.42" y1="591.70" x2="484.92" y2="591.70" stroke="rgba(0,0,0,0.6)" stroke-width="1.3"/>
<rect x="490.71" y="512.80" width="13.50" height="77.30" fill="#EEBE00" stroke="rgba(0,0,0,0.38)" stroke-width="0.9"/>
<line x1="490.71" y1="569.20" x2="504.21" y2="569.20" stroke="rgba(0,0,0,0.6)" stroke-width="1.3"/>
<rect x="510.00" y="423.30" width="13.50" height="84.60" fill="#868686" stroke="rgba(0,0,0,0.38)" stroke-width="0.9"/>
<line x1="510.00" y1="478.10" x2="523.50" y2="478.10" stroke="rgba(0,0,0,0.6)" stroke-width="1.3"/>
<rect x="529.29" y="470.40" width="13.50" height="37.50" fill="#CF524B" stroke="rgba(0,0,0,0.38)" stroke-width="0.9"/>
<line x1="529.29" y1="481.30" x2="542.79" y2="481.30" stroke="rgba(0,0,0,0.6)" stroke-width="1.3"/>
<rect x="548.58" y="641.20" width="13.50" height="5.50" fill="#79A5DD" stroke="rgba(0,0,0,0.38)" stroke-width="0.9"/>
<line x1="548.58" y1="642.10" x2="562.08" y2="642.10" stroke="rgba(0,0,0,0.6)" stroke-width="1.3"/>
<rect x="578.40" y="354.20" width="100.80" height="310.70" fill="none" stroke="#a3a3a3" stroke-width="1.25" stroke-linejoin="round"/>
<line x1="576.60" y1="386.10" x2="578.40" y2="386.10" stroke="#777" stroke-width="0.6"/>
<text x="569.26" y="388.04" font-size="6.70" fill="#3a3a3a" textLength="7.45" lengthAdjust="spacingAndGlyphs">5.0</text>
<line x1="576.60" y1="465.80" x2="578.40" y2="465.80" stroke="#777" stroke-width="0.6"/>
<text x="569.27" y="467.70" font-size="6.70" fill="#3a3a3a" textLength="7.45" lengthAdjust="spacingAndGlyphs">4.5</text>
<line x1="576.60" y1="545.60" x2="578.40" y2="545.60" stroke="#777" stroke-width="0.6"/>
<text x="569.26" y="547.54" font-size="6.70" fill="#3a3a3a" textLength="7.45" lengthAdjust="spacingAndGlyphs">4.0</text>
<line x1="576.60" y1="625.40" x2="578.40" y2="625.40" stroke="#777" stroke-width="0.6"/>
<text x="569.27" y="627.34" font-size="6.70" fill="#3a3a3a" textLength="7.45" lengthAdjust="spacingAndGlyphs">3.5</text>
<line x1="590.03" y1="664.90" x2="590.03" y2="666.50" stroke="#aaa" stroke-width="0.6"/>
<line x1="609.42" y1="664.90" x2="609.42" y2="666.50" stroke="#aaa" stroke-width="0.6"/>
<line x1="628.80" y1="664.90" x2="628.80" y2="666.50" stroke="#aaa" stroke-width="0.6"/>
<line x1="648.18" y1="664.90" x2="648.18" y2="666.50" stroke="#aaa" stroke-width="0.6"/>
<line x1="667.57" y1="664.90" x2="667.57" y2="666.50" stroke="#aaa" stroke-width="0.6"/>
<line x1="590.03" y1="471.60" x2="590.03" y2="481.00" stroke="#a9a9a9" stroke-width="1.2"/>
<line x1="590.03" y1="500.80" x2="590.03" y2="511.40" stroke="#a9a9a9" stroke-width="1.2"/>
<line x1="609.42" y1="404.90" x2="609.42" y2="440.10" stroke="#a9a9a9" stroke-width="1.2"/>
<line x1="609.42" y1="484.30" x2="609.42" y2="492.50" stroke="#a9a9a9" stroke-width="1.2"/>
<line x1="628.80" y1="368.60" x2="628.80" y2="393.20" stroke="#a9a9a9" stroke-width="1.2"/>
<line x1="628.80" y1="438.30" x2="628.80" y2="458.30" stroke="#a9a9a9" stroke-width="1.2"/>
<line x1="648.18" y1="403.10" x2="648.18" y2="419.00" stroke="#a9a9a9" stroke-width="1.2"/>
<line x1="648.18" y1="438.20" x2="648.18" y2="440.60" stroke="#a9a9a9" stroke-width="1.2"/>
<line x1="667.57" y1="628.80" x2="667.57" y2="634.50" stroke="#a9a9a9" stroke-width="1.2"/>
<line x1="667.57" y1="645.10" x2="667.57" y2="650.60" stroke="#a9a9a9" stroke-width="1.2"/>
<rect x="583.25" y="481.00" width="13.57" height="19.80" fill="#0070C0" stroke="rgba(0,0,0,0.38)" stroke-width="0.9"/>
<line x1="583.25" y1="489.60" x2="596.82" y2="489.60" stroke="rgba(0,0,0,0.6)" stroke-width="1.3"/>
<rect x="602.63" y="440.10" width="13.57" height="44.20" fill="#EEBE00" stroke="rgba(0,0,0,0.38)" stroke-width="0.9"/>
<line x1="602.63" y1="475.50" x2="616.20" y2="475.50" stroke="rgba(0,0,0,0.6)" stroke-width="1.3"/>
<rect x="622.02" y="393.20" width="13.57" height="45.10" fill="#868686" stroke="rgba(0,0,0,0.38)" stroke-width="0.9"/>
<line x1="622.02" y1="418.00" x2="635.58" y2="418.00" stroke="rgba(0,0,0,0.6)" stroke-width="1.3"/>
<rect x="641.40" y="419.00" width="13.57" height="19.20" fill="#CF524B" stroke="rgba(0,0,0,0.38)" stroke-width="0.9"/>
<line x1="641.40" y1="434.40" x2="654.97" y2="434.40" stroke="rgba(0,0,0,0.6)" stroke-width="1.3"/>
<rect x="660.78" y="634.50" width="13.57" height="10.60" fill="#79A5DD" stroke="rgba(0,0,0,0.38)" stroke-width="0.9"/>
<line x1="660.78" y1="639.40" x2="674.35" y2="639.40" stroke="rgba(0,0,0,0.6)" stroke-width="1.3"/>
<text x="3.32" y="9.37" font-size="11.68" font-weight="bold" fill="#111" stroke="#111" stroke-width="0.3" textLength="16.06" lengthAdjust="spacingAndGlyphs">(A)</text>
<text x="25.47" y="10.90" font-size="11.72" font-weight="bold" fill="#111" stroke="#111" stroke-width="0.3" textLength="79.07" lengthAdjust="spacingAndGlyphs">Observed ASVs</text>
<text x="133.18" y="10.80" font-size="11.45" font-weight="bold" fill="#111" stroke="#111" stroke-width="0.3" textLength="86.29" lengthAdjust="spacingAndGlyphs">Inverse Simpson</text>
<text x="268.48" y="10.70" font-size="11.72" font-weight="bold" fill="#111" stroke="#111" stroke-width="0.3" textLength="47.20" lengthAdjust="spacingAndGlyphs">Shannon</text>
<text x="349.02" y="11.58" font-size="12.11" font-weight="bold" fill="#111" stroke="#111" stroke-width="0.3" textLength="16.17" lengthAdjust="spacingAndGlyphs">(B)</text>
<text x="367.77" y="12.00" font-size="11.86" font-weight="bold" fill="#111" stroke="#111" stroke-width="0.3" textLength="79.17" lengthAdjust="spacingAndGlyphs">Observed ASVs</text>
<text x="475.37" y="11.40" font-size="11.31" font-weight="bold" fill="#111" stroke="#111" stroke-width="0.3" textLength="87.00" lengthAdjust="spacingAndGlyphs">Inverse Simpson</text>
<text x="610.78" y="11.40" font-size="11.86" font-weight="bold" fill="#111" stroke="#111" stroke-width="0.3" textLength="46.99" lengthAdjust="spacingAndGlyphs">Shannon</text>
<text x="0.26" y="348.89" font-size="11.58" font-weight="bold" fill="#111" stroke="#111" stroke-width="0.3" textLength="15.09" lengthAdjust="spacingAndGlyphs">(C)</text>
<text x="22.86" y="351.50" font-size="11.45" font-weight="bold" fill="#111" stroke="#111" stroke-width="0.3" textLength="79.58" lengthAdjust="spacingAndGlyphs">Observed ASVs</text>
<text x="131.06" y="351.20" font-size="11.59" font-weight="bold" fill="#111" stroke="#111" stroke-width="0.3" textLength="88.22" lengthAdjust="spacingAndGlyphs">Inverse Simpson</text>
<text x="267.68" y="351.60" font-size="11.45" font-weight="bold" fill="#111" stroke="#111" stroke-width="0.3" textLength="47.91" lengthAdjust="spacingAndGlyphs">Shannon</text>
<text x="342.89" y="349.32" font-size="12.86" font-weight="bold" fill="#111" stroke="#111" stroke-width="0.3" textLength="17.03" lengthAdjust="spacingAndGlyphs">(D)</text>
<text x="368.16" y="352.10" font-size="11.86" font-weight="bold" fill="#111" stroke="#111" stroke-width="0.3" textLength="79.58" lengthAdjust="spacingAndGlyphs">Observed ASVs</text>
<text x="476.57" y="351.80" font-size="11.72" font-weight="bold" fill="#111" stroke="#111" stroke-width="0.3" textLength="87.71" lengthAdjust="spacingAndGlyphs">Inverse Simpson</text>
<text x="613.28" y="352.00" font-size="11.72" font-weight="bold" fill="#111" stroke="#111" stroke-width="0.3" textLength="47.71" lengthAdjust="spacingAndGlyphs">Shannon</text>
<text x="19.28" y="310.80" font-size="11.89" font-weight="bold" fill="#111" stroke="#111" stroke-width="0.3" textLength="14.34" lengthAdjust="spacingAndGlyphs">BC</text>
<text x="40.59" y="310.80" font-size="11.89" font-weight="bold" fill="#111" stroke="#111" stroke-width="0.3" textLength="13.78" lengthAdjust="spacingAndGlyphs">LG</text>
<text x="63.12" y="310.80" font-size="12.06" font-weight="bold" fill="#111" stroke="#111" stroke-width="0.3" textLength="6.63" lengthAdjust="spacingAndGlyphs">F</text>
<text x="79.19" y="310.80" font-size="12.06" font-weight="bold" fill="#111" stroke="#111" stroke-width="0.3" textLength="12.38" lengthAdjust="spacingAndGlyphs">TE</text>
<text x="100.80" y="310.80" font-size="12.06" font-weight="bold" fill="#111" stroke="#111" stroke-width="0.3" textLength="8.60" lengthAdjust="spacingAndGlyphs">H</text>
<text x="134.03" y="310.80" font-size="11.89" font-weight="bold" fill="#111" stroke="#111" stroke-width="0.3" textLength="14.34" lengthAdjust="spacingAndGlyphs">BC</text>
<text x="155.69" y="310.80" font-size="11.89" font-weight="bold" fill="#111" stroke="#111" stroke-width="0.3" textLength="13.78" lengthAdjust="spacingAndGlyphs">LG</text>
<text x="178.17" y="310.80" font-size="12.06" font-weight="bold" fill="#111" stroke="#111" stroke-width="0.3" textLength="6.63" lengthAdjust="spacingAndGlyphs">F</text>
<text x="193.64" y="310.80" font-size="12.06" font-weight="bold" fill="#111" stroke="#111" stroke-width="0.3" textLength="12.38" lengthAdjust="spacingAndGlyphs">TE</text>
<text x="215.05" y="310.80" font-size="12.06" font-weight="bold" fill="#111" stroke="#111" stroke-width="0.3" textLength="8.60" lengthAdjust="spacingAndGlyphs">H</text>
<text x="245.93" y="310.80" font-size="11.89" font-weight="bold" fill="#111" stroke="#111" stroke-width="0.3" textLength="14.34" lengthAdjust="spacingAndGlyphs">BC</text>
<text x="267.69" y="310.80" font-size="11.89" font-weight="bold" fill="#111" stroke="#111" stroke-width="0.3" textLength="13.78" lengthAdjust="spacingAndGlyphs">LG</text>
<text x="290.07" y="310.80" font-size="12.06" font-weight="bold" fill="#111" stroke="#111" stroke-width="0.3" textLength="6.63" lengthAdjust="spacingAndGlyphs">F</text>
<text x="306.09" y="310.80" font-size="12.06" font-weight="bold" fill="#111" stroke="#111" stroke-width="0.3" textLength="12.38" lengthAdjust="spacingAndGlyphs">TE</text>
<text x="327.35" y="310.80" font-size="12.06" font-weight="bold" fill="#111" stroke="#111" stroke-width="0.3" textLength="8.60" lengthAdjust="spacingAndGlyphs">H</text>
<text x="362.28" y="310.80" font-size="11.89" font-weight="bold" fill="#111" stroke="#111" stroke-width="0.3" textLength="14.34" lengthAdjust="spacingAndGlyphs">BC</text>
<text x="382.84" y="310.80" font-size="11.89" font-weight="bold" fill="#111" stroke="#111" stroke-width="0.3" textLength="13.78" lengthAdjust="spacingAndGlyphs">LG</text>
<text x="406.77" y="310.80" font-size="12.06" font-weight="bold" fill="#111" stroke="#111" stroke-width="0.3" textLength="6.63" lengthAdjust="spacingAndGlyphs">F</text>
<text x="422.44" y="310.80" font-size="12.06" font-weight="bold" fill="#111" stroke="#111" stroke-width="0.3" textLength="12.38" lengthAdjust="spacingAndGlyphs">TE</text>
<text x="443.85" y="310.80" font-size="12.06" font-weight="bold" fill="#111" stroke="#111" stroke-width="0.3" textLength="8.60" lengthAdjust="spacingAndGlyphs">H</text>
<text x="472.23" y="310.80" font-size="11.89" font-weight="bold" fill="#111" stroke="#111" stroke-width="0.3" textLength="14.34" lengthAdjust="spacingAndGlyphs">BC</text>
<text x="493.84" y="310.80" font-size="11.89" font-weight="bold" fill="#111" stroke="#111" stroke-width="0.3" textLength="13.78" lengthAdjust="spacingAndGlyphs">LG</text>
<text x="516.32" y="310.80" font-size="12.06" font-weight="bold" fill="#111" stroke="#111" stroke-width="0.3" textLength="6.63" lengthAdjust="spacingAndGlyphs">F</text>
<text x="531.94" y="310.80" font-size="12.06" font-weight="bold" fill="#111" stroke="#111" stroke-width="0.3" textLength="12.38" lengthAdjust="spacingAndGlyphs">TE</text>
<text x="554.00" y="310.80" font-size="12.06" font-weight="bold" fill="#111" stroke="#111" stroke-width="0.3" textLength="8.60" lengthAdjust="spacingAndGlyphs">H</text>
<text x="583.53" y="310.80" font-size="11.89" font-weight="bold" fill="#111" stroke="#111" stroke-width="0.3" textLength="14.34" lengthAdjust="spacingAndGlyphs">BC</text>
<text x="605.14" y="310.80" font-size="11.89" font-weight="bold" fill="#111" stroke="#111" stroke-width="0.3" textLength="13.78" lengthAdjust="spacingAndGlyphs">LG</text>
<text x="627.57" y="310.80" font-size="12.06" font-weight="bold" fill="#111" stroke="#111" stroke-width="0.3" textLength="6.63" lengthAdjust="spacingAndGlyphs">F</text>
<text x="643.29" y="310.80" font-size="12.06" font-weight="bold" fill="#111" stroke="#111" stroke-width="0.3" textLength="12.38" lengthAdjust="spacingAndGlyphs">TE</text>
<text x="665.15" y="310.80" font-size="12.06" font-weight="bold" fill="#111" stroke="#111" stroke-width="0.3" textLength="8.60" lengthAdjust="spacingAndGlyphs">H</text>
<text x="16.28" y="677.20" font-size="11.60" font-weight="bold" fill="#111" stroke="#111" stroke-width="0.3" textLength="14.34" lengthAdjust="spacingAndGlyphs">BC</text>
<text x="37.59" y="677.20" font-size="11.60" font-weight="bold" fill="#111" stroke="#111" stroke-width="0.3" textLength="13.78" lengthAdjust="spacingAndGlyphs">LG</text>
<text x="61.07" y="677.20" font-size="11.77" font-weight="bold" fill="#111" stroke="#111" stroke-width="0.3" textLength="6.63" lengthAdjust="spacingAndGlyphs">F</text>
<text x="76.79" y="677.20" font-size="11.77" font-weight="bold" fill="#111" stroke="#111" stroke-width="0.3" textLength="12.38" lengthAdjust="spacingAndGlyphs">TE</text>
<text x="98.90" y="677.20" font-size="11.77" font-weight="bold" fill="#111" stroke="#111" stroke-width="0.3" textLength="8.60" lengthAdjust="spacingAndGlyphs">H</text>
<text x="132.48" y="677.20" font-size="11.60" font-weight="bold" fill="#111" stroke="#111" stroke-width="0.3" textLength="14.34" lengthAdjust="spacingAndGlyphs">BC</text>
<text x="153.24" y="677.20" font-size="11.60" font-weight="bold" fill="#111" stroke="#111" stroke-width="0.3" textLength="13.78" lengthAdjust="spacingAndGlyphs">LG</text>
<text x="176.52" y="677.20" font-size="11.77" font-weight="bold" fill="#111" stroke="#111" stroke-width="0.3" textLength="6.63" lengthAdjust="spacingAndGlyphs">F</text>
<text x="192.29" y="677.20" font-size="11.77" font-weight="bold" fill="#111" stroke="#111" stroke-width="0.3" textLength="12.38" lengthAdjust="spacingAndGlyphs">TE</text>
<text x="213.45" y="677.20" font-size="11.77" font-weight="bold" fill="#111" stroke="#111" stroke-width="0.3" textLength="8.60" lengthAdjust="spacingAndGlyphs">H</text>
<text x="245.23" y="677.20" font-size="11.60" font-weight="bold" fill="#111" stroke="#111" stroke-width="0.3" textLength="14.34" lengthAdjust="spacingAndGlyphs">BC</text>
<text x="266.09" y="677.20" font-size="11.60" font-weight="bold" fill="#111" stroke="#111" stroke-width="0.3" textLength="13.78" lengthAdjust="spacingAndGlyphs">LG</text>
<text x="289.47" y="677.20" font-size="11.77" font-weight="bold" fill="#111" stroke="#111" stroke-width="0.3" textLength="6.63" lengthAdjust="spacingAndGlyphs">F</text>
<text x="305.59" y="677.20" font-size="11.77" font-weight="bold" fill="#111" stroke="#111" stroke-width="0.3" textLength="12.38" lengthAdjust="spacingAndGlyphs">TE</text>
<text x="327.45" y="677.20" font-size="11.77" font-weight="bold" fill="#111" stroke="#111" stroke-width="0.3" textLength="8.60" lengthAdjust="spacingAndGlyphs">H</text>
<text x="362.88" y="677.20" font-size="11.60" font-weight="bold" fill="#111" stroke="#111" stroke-width="0.3" textLength="14.34" lengthAdjust="spacingAndGlyphs">BC</text>
<text x="383.59" y="677.20" font-size="11.60" font-weight="bold" fill="#111" stroke="#111" stroke-width="0.3" textLength="13.78" lengthAdjust="spacingAndGlyphs">LG</text>
<text x="407.02" y="677.20" font-size="11.77" font-weight="bold" fill="#111" stroke="#111" stroke-width="0.3" textLength="6.63" lengthAdjust="spacingAndGlyphs">F</text>
<text x="423.14" y="677.20" font-size="11.77" font-weight="bold" fill="#111" stroke="#111" stroke-width="0.3" textLength="12.38" lengthAdjust="spacingAndGlyphs">TE</text>
<text x="444.95" y="677.20" font-size="11.77" font-weight="bold" fill="#111" stroke="#111" stroke-width="0.3" textLength="8.60" lengthAdjust="spacingAndGlyphs">H</text>
<text x="473.78" y="677.20" font-size="11.60" font-weight="bold" fill="#111" stroke="#111" stroke-width="0.3" textLength="14.34" lengthAdjust="spacingAndGlyphs">BC</text>
<text x="494.39" y="677.20" font-size="11.60" font-weight="bold" fill="#111" stroke="#111" stroke-width="0.3" textLength="13.78" lengthAdjust="spacingAndGlyphs">LG</text>
<text x="517.57" y="677.20" font-size="11.77" font-weight="bold" fill="#111" stroke="#111" stroke-width="0.3" textLength="6.63" lengthAdjust="spacingAndGlyphs">F</text>
<text x="533.84" y="677.20" font-size="11.77" font-weight="bold" fill="#111" stroke="#111" stroke-width="0.3" textLength="12.38" lengthAdjust="spacingAndGlyphs">TE</text>
<text x="555.35" y="677.20" font-size="11.77" font-weight="bold" fill="#111" stroke="#111" stroke-width="0.3" textLength="8.60" lengthAdjust="spacingAndGlyphs">H</text>
<text x="586.03" y="677.20" font-size="11.60" font-weight="bold" fill="#111" stroke="#111" stroke-width="0.3" textLength="14.34" lengthAdjust="spacingAndGlyphs">BC</text>
<text x="607.04" y="677.20" font-size="11.60" font-weight="bold" fill="#111" stroke="#111" stroke-width="0.3" textLength="13.78" lengthAdjust="spacingAndGlyphs">LG</text>
<text x="630.52" y="677.20" font-size="11.77" font-weight="bold" fill="#111" stroke="#111" stroke-width="0.3" textLength="6.63" lengthAdjust="spacingAndGlyphs">F</text>
<text x="646.44" y="677.20" font-size="11.77" font-weight="bold" fill="#111" stroke="#111" stroke-width="0.3" textLength="12.38" lengthAdjust="spacingAndGlyphs">TE</text>
<text x="668.15" y="677.20" font-size="11.77" font-weight="bold" fill="#111" stroke="#111" stroke-width="0.3" textLength="8.60" lengthAdjust="spacingAndGlyphs">H</text>
<text x="173.96" y="29.00" font-size="7.40" font-weight="normal" fill="#000" textLength="6.88" lengthAdjust="spacingAndGlyphs">ns</text>
<text x="292.06" y="29.00" font-size="7.40" font-weight="normal" fill="#000" textLength="6.88" lengthAdjust="spacingAndGlyphs">ns</text>
<text x="403.96" y="29.00" font-size="7.40" font-weight="normal" fill="#000" textLength="6.88" lengthAdjust="spacingAndGlyphs">ns</text>
<text x="514.56" y="29.20" font-size="7.40" font-weight="normal" fill="#000" textLength="6.88" lengthAdjust="spacingAndGlyphs">ns</text>
<text x="629.86" y="29.00" font-size="7.40" font-weight="normal" fill="#000" textLength="6.88" lengthAdjust="spacingAndGlyphs">ns</text>
<text x="57.96" y="362.70" font-size="7.40" font-weight="normal" fill="#000" textLength="6.88" lengthAdjust="spacingAndGlyphs">ns</text>
<text x="172.66" y="363.00" font-size="7.40" font-weight="normal" fill="#000" textLength="6.88" lengthAdjust="spacingAndGlyphs">ns</text>
<text x="291.76" y="363.00" font-size="7.40" font-weight="normal" fill="#000" textLength="6.88" lengthAdjust="spacingAndGlyphs">ns</text>
<text x="25.18" y="166.70" font-size="8.00" font-weight="bold" fill="#151515" stroke="#151515" stroke-width="0.22" textLength="4.64" lengthAdjust="spacingAndGlyphs">b</text>
<text x="44.75" y="28.60" font-size="8.00" font-weight="bold" fill="#151515" stroke="#151515" stroke-width="0.22" textLength="4.23" lengthAdjust="spacingAndGlyphs">a</text>
<text x="62.36" y="165.30" font-size="8.00" font-weight="bold" fill="#151515" stroke="#151515" stroke-width="0.22" textLength="8.87" lengthAdjust="spacingAndGlyphs">ab</text>
<text x="82.58" y="148.10" font-size="8.00" font-weight="bold" fill="#151515" stroke="#151515" stroke-width="0.22" textLength="4.64" lengthAdjust="spacingAndGlyphs">b</text>
<text x="101.08" y="165.80" font-size="8.00" font-weight="bold" fill="#151515" stroke="#151515" stroke-width="0.22" textLength="4.64" lengthAdjust="spacingAndGlyphs">b</text>
<text x="362.51" y="503.30" font-size="8.00" font-weight="bold" fill="#151515" stroke="#151515" stroke-width="0.22" textLength="8.87" lengthAdjust="spacingAndGlyphs">ab</text>
<text x="384.65" y="376.30" font-size="8.00" font-weight="bold" fill="#151515" stroke="#151515" stroke-width="0.22" textLength="4.23" lengthAdjust="spacingAndGlyphs">a</text>
<text x="403.85" y="365.50" font-size="8.00" font-weight="bold" fill="#151515" stroke="#151515" stroke-width="0.22" textLength="4.23" lengthAdjust="spacingAndGlyphs">a</text>
<text x="422.75" y="381.80" font-size="8.00" font-weight="bold" fill="#151515" stroke="#151515" stroke-width="0.22" textLength="4.23" lengthAdjust="spacingAndGlyphs">a</text>
<text x="442.48" y="483.30" font-size="8.00" font-weight="bold" fill="#151515" stroke="#151515" stroke-width="0.22" textLength="4.64" lengthAdjust="spacingAndGlyphs">b</text>
<text x="473.91" y="557.30" font-size="8.00" font-weight="bold" fill="#151515" stroke="#151515" stroke-width="0.22" textLength="8.87" lengthAdjust="spacingAndGlyphs">ab</text>
<text x="492.81" y="449.70" font-size="8.00" font-weight="bold" fill="#151515" stroke="#151515" stroke-width="0.22" textLength="8.87" lengthAdjust="spacingAndGlyphs">ab</text>
<text x="513.85" y="363.80" font-size="8.00" font-weight="bold" fill="#151515" stroke="#151515" stroke-width="0.22" textLength="4.23" lengthAdjust="spacingAndGlyphs">a</text>
<text x="533.75" y="454.10" font-size="8.00" font-weight="bold" fill="#151515" stroke="#151515" stroke-width="0.22" textLength="4.23" lengthAdjust="spacingAndGlyphs">a</text>
<text x="551.88" y="632.20" font-size="8.00" font-weight="bold" fill="#151515" stroke="#151515" stroke-width="0.22" textLength="4.64" lengthAdjust="spacingAndGlyphs">b</text>
<text x="586.48" y="465.60" font-size="8.00" font-weight="bold" fill="#151515" stroke="#151515" stroke-width="0.22" textLength="4.64" lengthAdjust="spacingAndGlyphs">b</text>
<text x="604.91" y="398.30" font-size="8.00" font-weight="bold" fill="#151515" stroke="#151515" stroke-width="0.22" textLength="8.87" lengthAdjust="spacingAndGlyphs">ab</text>
<text x="626.35" y="363.80" font-size="8.00" font-weight="bold" fill="#151515" stroke="#151515" stroke-width="0.22" textLength="4.23" lengthAdjust="spacingAndGlyphs">a</text>
<text x="645.85" y="397.50" font-size="8.00" font-weight="bold" fill="#151515" stroke="#151515" stroke-width="0.22" textLength="4.23" lengthAdjust="spacingAndGlyphs">a</text>
<text x="664.85" y="619.60" font-size="8.00" font-weight="bold" fill="#151515" stroke="#151515" stroke-width="0.22" textLength="4.23" lengthAdjust="spacingAndGlyphs">c</text>
<circle cx="97.4" cy="26.3" r="1.35" fill="#1a1a1a"/>
<circle cx="101.5" cy="26.3" r="1.35" fill="#1a1a1a"/>
<circle cx="442.7" cy="361.2" r="1.35" fill="#1a1a1a"/>
<circle cx="555.3" cy="361.4" r="1.35" fill="#1a1a1a"/>
<circle cx="659.9" cy="360.1" r="1.35" fill="#1a1a1a"/>
<circle cx="664.2" cy="360.1" r="1.35" fill="#1a1a1a"/>
<circle cx="668.4" cy="360.1" r="1.35" fill="#1a1a1a"/>
</svg>
</body></html>
